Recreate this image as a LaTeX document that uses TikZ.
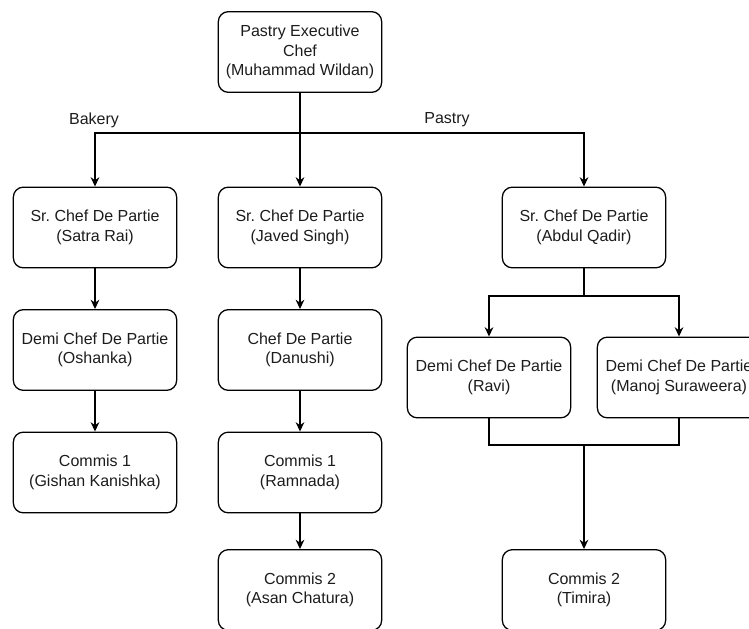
\documentclass[tikz,border=0pt]{standalone}
\usepackage{fontspec}
\setmainfont{Liberation Sans}
\usetikzlibrary{arrows.meta}
\definecolor{ink}{HTML}{1C1C1C}
\frenchspacing
\begin{document}
\begin{tikzpicture}[x=0.75pt,y=-0.75pt,
  role/.style={draw=black, line width=0.95pt, rounded corners=7.5pt,
    minimum width=122.5pt, minimum height=60.5pt, inner sep=0pt,
    align=center, text=ink, font=\fontsize{12}{14.6}\selectfont},
  link/.style={draw=black, line width=0.95pt},
  tip/.tip={Stealth[length=7pt,width=6.5pt]},
  arr/.style={link, -tip},
  arrboth/.style={link, tip-tip},
  tag/.style={inner sep=0pt, text=ink, font=\fontsize{12}{14.6}\selectfont}]
\useasboundingbox (0,0) rectangle (749,628);

% head of the kitchen
\node[role] (exec) at (300,52) {Pastry Executive\\Chef\\(Muhammad Wildan)};

% senior chefs de partie
\node[role] (sr1) at (95,227.5)  {Sr. Chef De Partie\\(Satra Rai)};
\node[role] (sr2) at (300,227.5) {Sr. Chef De Partie\\(Javed Singh)};
\node[role] (sr3) at (584,227.5) {Sr. Chef De Partie\\(Abdul Qadir)};

% third level
\node[role] (demi1) at (95,350)    {Demi Chef De Partie\\(Oshanka)};
\node[role] (cdp)   at (300,350)   {Chef De Partie\\(Danushi)};
\node[role] (ravi)  at (489,377.5) {Demi Chef De Partie\\(Ravi)};
\node[role] (manoj) at (679,377.5) {Demi Chef De Partie\\(Manoj Suraweera)};

% commis
\node[role] (c1a) at (95,472.5)  {Commis 1\\(Gishan Kanishka)};
\node[role] (c1b) at (300,472.5) {Commis 1\\(Ramnada)};
\node[role] (c2a) at (300,590)   {Commis 2\\(Asan Chatura)};
\node[role] (c2b) at (584,590)   {Commis 2\\(Timira)};

% section labels on the bus
\node[tag] (bakery) at (94,120)  {Bakery};
\node[tag] (pastry) at (447,120) {Pastry};

% top bus
\coordinate (bus) at (300,133);
\draw[arr] (exec.south) -- (sr2.north);
\draw[arrboth] (sr1.north) -- (sr1.north |- bus) -- (sr3.north |- bus) -- (sr3.north);

% bakery line
\draw[arr] (sr1.south) -- (demi1.north);
\draw[arr] (demi1.south) -- (c1a.north);

% middle line
\draw[arr] (sr2.south) -- (cdp.north);
\draw[arr] (cdp.south) -- (c1b.north);
\draw[arr] (c1b.south) -- (c2a.north);

% pastry line
\coordinate (split) at (584,296);
\coordinate (merge) at (584,445);
\draw[link] (sr3.south) -- (split);
\draw[arrboth] (ravi.north) -- (ravi.north |- split) -- (manoj.north |- split) -- (manoj.north);
\draw[link] (ravi.south) -- (ravi.south |- merge) -- (manoj.south |- merge) -- (manoj.south);
\draw[arr] (merge) -- (c2b.north);
\end{tikzpicture}
\end{document}
